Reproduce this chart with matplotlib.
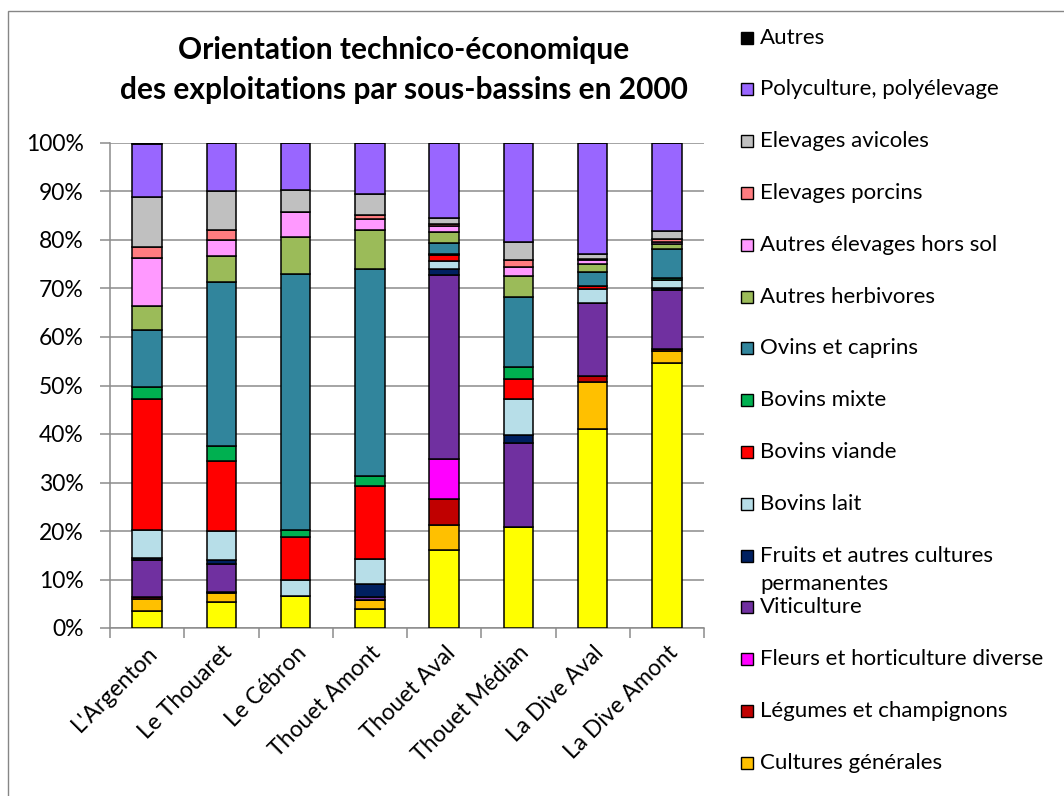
import numpy as np
import matplotlib
matplotlib.use('Agg')
import matplotlib.pyplot as plt
from matplotlib.patches import Rectangle

plt.rcParams['font.family'] = ['Lato', 'DejaVu Sans']

bassins = ["L'Argenton", 'Le Thouaret', 'Le Cébron', 'Thouet Amont',
           'Thouet Aval', 'Thouet Médian', 'La Dive Aval', 'La Dive Amont']

# valeurs en %, de bas en haut de la pile
grandes_cultures = [3.6, 5.4, 6.6, 3.9, 16.0, 20.8, 41.1, 54.7]
cultures_generales = [2.3, 1.8, 0.0, 1.9, 5.3, 0.0, 9.7, 2.4]
legumes = [0.5, 0.2, 0.0, 0.0, 5.4, 0.0, 1.1, 0.5]
fleurs = [0.0, 0.0, 0.0, 0.0, 8.2, 0.0, 0.0, 0.0]
viticulture = [7.6, 5.7, 0.0, 0.5, 37.8, 17.4, 15.2, 12.0]
fruits = [0.4, 1.0, 0.0, 2.8, 1.4, 1.5, 0.0, 0.6]
bovins_lait = [5.8, 6.0, 3.4, 5.2, 1.5, 7.5, 2.8, 1.5]
bovins_viande = [27.1, 14.4, 8.8, 14.9, 1.4, 4.2, 0.7, 0.0]
bovins_mixte = [2.3, 3.1, 1.4, 2.2, 0.2, 2.4, 0.0, 0.5]
ovins = [11.9, 33.7, 52.8, 42.7, 2.2, 14.4, 2.9, 5.9]
herbivores = [4.9, 5.3, 7.6, 8.0, 2.2, 4.3, 1.5, 1.1]
hors_sol = [9.8, 3.5, 5.1, 2.2, 1.2, 1.9, 0.8, 0.4]
porcins = [2.3, 2.0, 0.0, 0.8, 0.4, 1.4, 0.2, 0.7]
avicoles = [10.3, 8.1, 4.6, 4.3, 1.3, 3.7, 1.2, 1.6]
polyculture = [11.0, 9.8, 9.7, 10.6, 15.5, 20.5, 22.8, 18.1]
autres = [0.2, 0.0, 0.0, 0.0, 0.0, 0.0, 0.0, 0.0]

series = [
    ('Grandes cultures', grandes_cultures, '#FFFF00'),
    ('Cultures générales', cultures_generales, '#FFC000'),
    ('Légumes et champignons', legumes, '#C00000'),
    ('Fleurs et horticulture diverse', fleurs, '#FF00FF'),
    ('Viticulture', viticulture, '#7030A0'),
    ('Fruits et autres cultures\npermanentes', fruits, '#002060'),
    ('Bovins lait', bovins_lait, '#B7DEE8'),
    ('Bovins viande', bovins_viande, '#FF0000'),
    ('Bovins mixte', bovins_mixte, '#00B050'),
    ('Ovins et caprins', ovins, '#31859C'),
    ('Autres herbivores', herbivores, '#9BBB59'),
    ('Autres élevages hors sol', hors_sol, '#FF99FF'),
    ('Elevages porcins', porcins, '#FF7C80'),
    ('Elevages avicoles', avicoles, '#C0C0C0'),
    ('Polyculture, polyélevage', polyculture, '#9966FF'),
    ('Autres', autres, '#000000'),
]

fig = plt.figure(figsize=(10.64, 7.96), dpi=100)
ax = fig.add_axes([110 / 1064, 1 - 628 / 796, 594 / 1064, 485 / 796])

x = np.arange(len(bassins))
bottom = np.zeros(len(bassins))
for name, vals, col in series:
    vals = np.array(vals)
    ax.bar(x, vals, 0.4, bottom=bottom, color=col, edgecolor='black',
           linewidth=1.1, zorder=3)
    bottom += vals

grid_col = '#8C8C8C'
ax.set_xlim(-0.5, len(bassins) - 0.5)
ax.set_ylim(0, 100)
ax.set_yticks(np.arange(0, 101, 10))
ax.set_yticklabels([f'{v}%' for v in range(0, 101, 10)], fontsize=16.5)
ax.yaxis.grid(True, color=grid_col, linewidth=1.1, zorder=0)
ax.tick_params(axis='y', length=7, color=grid_col, width=1.1, pad=12)

ax.set_xticks(x)
ax.set_xticklabels(bassins, rotation=45, ha='right', rotation_mode='anchor',
                   fontsize=16.5)
ax.set_xticks(np.arange(-0.5, len(bassins), 1), minor=True)
ax.tick_params(axis='x', which='major', length=0, pad=10)
ax.tick_params(axis='x', which='minor', length=7, color=grid_col, width=1.1)

for s in ['top', 'right']:
    ax.spines[s].set_visible(False)
for s in ['left', 'bottom']:
    ax.spines[s].set_color(grid_col)
    ax.spines[s].set_linewidth(1.1)

fig.text(404 / 1064, 1 - 50 / 796, 'Orientation technico-économique',
         ha='center', va='center', fontsize=21.5, fontweight='bold')
fig.text(404 / 1064, 1 - 90 / 796, 'des exploitations par sous-bassins en 2000',
         ha='center', va='center', fontsize=21.5, fontweight='bold')

# légende (la série jaune est coupée dans l'original)
legend_items = series[1:][::-1]
for i, (name, vals, col) in enumerate(legend_items):
    yc = 37.5 + 51.8 * i
    fig.patches.append(Rectangle((741 / 1064, 1 - (yc + 6) / 796), 12 / 1064, 12 / 796,
                                 transform=fig.transFigure, facecolor=col,
                                 edgecolor='black', linewidth=1.0))
    if '\n' in name:
        l1, l2 = name.split('\n')
        fig.text(760 / 1064, 1 - yc / 796, l1, ha='left', va='center', fontsize=16)
        fig.text(760 / 1064, 1 - (yc + 29) / 796, l2, ha='left', va='center', fontsize=16)
    else:
        fig.text(760 / 1064, 1 - yc / 796, name, ha='left', va='center', fontsize=16)

# cadre du graphique
fig.patches.append(Rectangle((7.5 / 1064, -0.1), 1.2, 1 - 11 / 796 + 0.1,
                             transform=fig.transFigure, fill=False,
                             edgecolor='#868686', linewidth=1.0))

fig.savefig('out.png', dpi=100)
